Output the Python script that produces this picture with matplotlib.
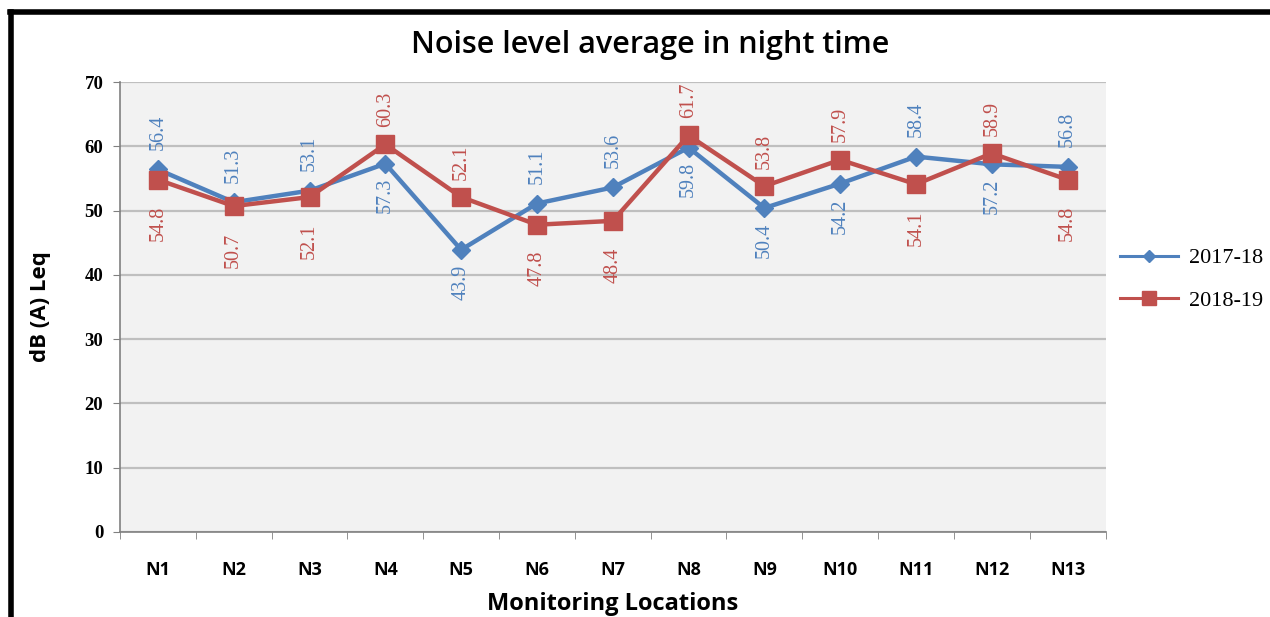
import numpy as np
import matplotlib.pyplot as plt
from matplotlib.lines import Line2D

locations = ['N1', 'N2', 'N3', 'N4', 'N5', 'N6', 'N7', 'N8', 'N9', 'N10', 'N11', 'N12', 'N13']
noise_1718 = [56.4, 51.3, 53.1, 57.3, 43.9, 51.1, 53.6, 59.8, 50.4, 54.2, 58.4, 57.2, 56.8]
noise_1819 = [54.8, 50.7, 52.1, 60.3, 52.1, 47.8, 48.4, 61.7, 53.8, 57.9, 54.1, 58.9, 54.8]

blue = '#4F81BD'
red = '#C0504D'
serif = ['Liberation Serif', 'DejaVu Serif']
sans = ['Open Sans', 'DejaVu Sans']

fig = plt.figure(figsize=(12.7, 6.17), dpi=100)
ax = fig.add_axes([0.0945, 0.138, 0.776, 0.729])
ax.set_facecolor('#F2F2F2')

x = np.arange(len(locations))
ax.plot(x, noise_1718, color=blue, lw=3.2, marker='D', ms=9.5, mec=blue, zorder=3)
ax.plot(x, noise_1819, color=red, lw=3.2, marker='s', ms=12.5, mec=red, zorder=4)

# data labels, rotated; the higher series gets its label above the point
for i in range(len(x)):
    a, b = noise_1718[i], noise_1819[i]
    for val, other, col, gap_up, gap_dn in [(a, b, blue, 14, 10.5), (b, a, red, 12.5, 19)]:
        if val >= other:
            ax.annotate(f'{val}', (x[i], val), xytext=(0, gap_up), textcoords='offset points',
                        rotation=90, ha='center', va='bottom', color=col, fontsize=14.5,
                        family=serif, zorder=5)
        else:
            ax.annotate(f'{val}', (x[i], val), xytext=(0, -gap_dn), textcoords='offset points',
                        rotation=90, ha='center', va='top', color=col, fontsize=14.5,
                        family=serif, zorder=5)

ax.set_xlim(-0.5, len(x) - 0.5)
ax.set_ylim(0, 70)
ax.set_yticks(range(0, 71, 10))
ax.set_yticklabels([str(v) for v in range(0, 71, 10)], family=serif, fontsize=13.5, fontweight='bold')
ax.set_xticks(x)
ax.set_xticklabels(locations, family=sans, fontsize=13, fontweight='bold')
ax.set_xticks(np.arange(-0.5, len(x), 1), minor=True)
ax.tick_params(axis='x', which='major', length=0, pad=21)
ax.tick_params(axis='x', which='minor', length=5, color='#808080', direction='out')
ax.tick_params(axis='y', length=5, color='#808080', pad=7)
ax.grid(axis='y', color='#BFBFBF', lw=1.6)
ax.set_axisbelow(True)
for s in ['top', 'right']:
    ax.spines[s].set_visible(False)
for s in ['left', 'bottom']:
    ax.spines[s].set_color('#808080')
    ax.spines[s].set_linewidth(1.2)

ax.set_xlabel('Monitoring Locations', family=sans, fontsize=17, fontweight='bold', labelpad=9)
ax.set_ylabel('dB (A) Leq', family=sans, fontsize=16, fontweight='bold', labelpad=24)
fig.text(0.512, 0.927, 'Noise level average in night time', ha='center', va='center',
         family=sans, fontsize=22, fontweight='semibold')

handles = [Line2D([], [], color=blue, lw=2.2, marker='D', ms=6.5),
           Line2D([], [], color=red, lw=2.2, marker='s', ms=9.5)]
fig.legend(handles, ['2017-18', '2018-19'], loc='center left', bbox_to_anchor=(0.866, 0.547),
           frameon=False, handlelength=2.6, handletextpad=0.5, labelspacing=1.0,
           prop={'family': serif, 'size': 16})

# black frame on top and left
fig.add_artist(Line2D([0.008, 1.0], [0.981, 0.981], color='black', lw=4, transform=fig.transFigure))
fig.add_artist(Line2D([0.009, 0.009], [0.0, 0.981], color='black', lw=4, transform=fig.transFigure))

fig.savefig('out.png', dpi=100)
